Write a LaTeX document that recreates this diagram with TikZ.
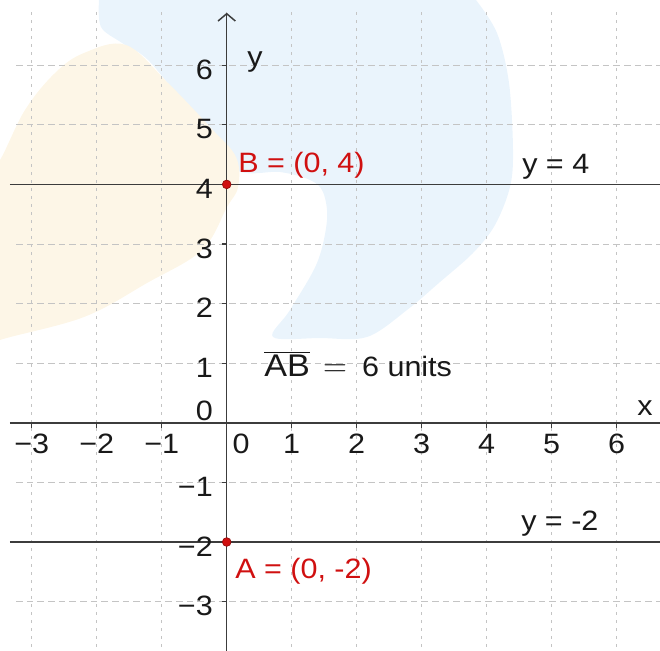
\documentclass[tikz,border=0pt]{standalone}
\usepackage{fontspec}
\setmainfont{Liberation Sans}[FakeStretch=1.09]
\usetikzlibrary{arrows.meta}
\definecolor{wmblue}{RGB}{234,244,252}
\definecolor{wmyellow}{RGB}{253,246,231}
\definecolor{gridgray}{RGB}{196,196,196}
\definecolor{axisgray}{RGB}{60,60,60}
\definecolor{ptred}{RGB}{208,16,16}
\definecolor{txtblack}{RGB}{25,25,25}
\tikzset{
 lbl/.style={font=\fontsize{21}{25}\selectfont, text=txtblack, inner sep=0pt},
 redlbl/.style={lbl, text=ptred},
 gridh/.style={draw=gridgray, line width=0.7pt, dash pattern=on 5pt off 3pt},
 gridv/.style={draw=gridgray, line width=0.7pt, dash pattern=on 2.5pt off 3.5pt},
 axisline/.style={draw=axisgray, line width=1.1pt},
 tickline/.style={draw=axisgray, line width=0.8pt},
 ptdot/.style={circle, fill=ptred, draw=ptred!70!black, line width=0.5pt, minimum size=6.5pt, inner sep=0pt},
}
\begin{document}
\begin{tikzpicture}[x=0.75pt,y=-0.75pt]
\useasboundingbox (0,0) rectangle (660,650);
\begin{scope}
\clip (0,0) rectangle (660,650);
\fill[wmblue] (99,-5) -- (476,-5) -- plot[smooth, tension=0.55] coordinates {
 (476,0) (497,33) (509,83) (513,150) (510,187) (495,225) (473,253)
 (440,282) (407,310) (367,337) (320,338) (273,337) (290,310) (317,263) (327,220)
 (323,192) (310,180) (280,172) (236,170) (200,125) (150,62) (122,43) (101,27) (99,0)} -- cycle;
\fill[wmyellow] plot[smooth cycle, tension=0.6] coordinates {
 (-15,175) (0,160) (25,110) (55,73) (84,53) (126,45) (168,83) (210,127)
 (236,157) (238,187) (227,207) (202,250) (147,283) (84,317) (0,340) (-15,350)};
\end{scope}
\begin{scope}[shift={(226.7,422.8)}, x=48.75pt, y=44.7pt]
 \foreach \k in {-3,...,6} \draw[gridh] (-3.24,\k) -- (6.7,\k);
 \foreach \k in {-3,...,6} \draw[gridv] (\k,6.89) -- (\k,-3.85);
 \draw[axisline] (-3.334,0) -- (6.7,0);
 \draw[axisline] (-3.334,4) -- (6.7,4);
 \draw[axisline] (-3.334,-2) -- (6.7,-2);
 \draw[axisline, -{Straight Barb[length=5.5pt,width=13pt]}] (0,-3.85) -- (0,6.88);
 \foreach \k in {-3,-2,-1,1,2,3,4,5,6} \draw[tickline] (\k,0) -- (\k,-0.09);
 \foreach \k in {-3,-2,-1,1,2,3,4,5,6} \draw[tickline] (-0.08,\k) -- (0,\k);
 \foreach \v/\t in {-3/−3,-2/−2,-1/−1,1/1,2/2,3/3,4/4,5/5,6/6}
   \node[lbl, anchor=base, yshift=-22.65pt] (xl\v) at (\v,0) {\t};
 \foreach \v/\t in {-3/−3,-2/−2,-1/−1,1/1,2/2,3/3,4/4,5/5,6/6}
   \node[lbl, anchor=base east, yshift=-10.5pt] (yl\v) at (-0.21,\v) {\t};
 \node[lbl, anchor=base, yshift=-22.65pt] (xl0) at (0.22,0) {0};
 \node[lbl, anchor=base east, yshift=1.4pt] (yl0) at (-0.21,0) {0};
 \node[ptdot] (B) at (0,4) {};
 \node[ptdot] (A) at (0,-2) {};
\end{scope}
\node[lbl, anchor=base west] (ylab) at (247,66) {y};
\node[lbl, anchor=base west] (xlab) at (637,415) {x};
\node[redlbl, anchor=base west] (Blab) at (238,172) {B = (0, 4)};
\node[redlbl, anchor=base west] (Alab) at (235,578) {A = (0, -2)};
\node[lbl, anchor=base west] (l4) at (522,173) {y = 4};
\node[lbl, anchor=base west] (lm2) at (521,530) {y = -2};
\node[lbl, anchor=base west] (ab) at (264,376) {{\fontsize{23.5}{27}\selectfont\(\overline{\hbox{AB}}\)\hspace{9.9pt}\(=\)}\hspace{11.4pt}6 units};
\end{tikzpicture}
\end{document}
